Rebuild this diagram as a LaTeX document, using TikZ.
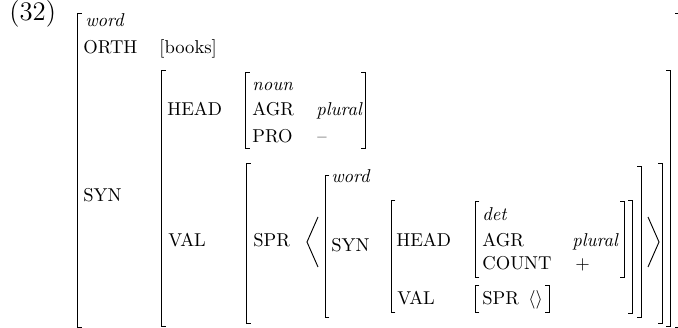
\documentclass[tikz,border=0pt]{standalone}
\usepackage{tikz}
\begin{document}
\begin{tikzpicture}[x=0.5376pt,y=-0.5376pt,
  feat/.style={anchor=base west,inner sep=0pt,font=\fontsize{10}{12}\selectfont},
  typ/.style={anchor=base west,inner sep=0pt,font=\fontsize{10}{12}\selectfont\itshape},
  txt/.style={anchor=base west,inner sep=0pt,font=\fontsize{10}{12}\selectfont},
  brk/.style={line width=0.5pt,line cap=rect}]
\useasboundingbox (0,0) rectangle (678,328);
\clip (0,0) rectangle (678,328);
% opening / closing bracket: x, top, bottom
\newcommand{\opbr}[3]{\draw[brk] (#1+4,#2) -- (#1,#2) -- (#1,#3) -- (#1+4,#3);}
\newcommand{\clbr}[3]{\draw[brk] (#1-4,#2) -- (#1,#2) -- (#1,#3) -- (#1-4,#3);}

% example number
\node[anchor=base west,inner sep=0pt,font=\fontsize{14.4}{17}\selectfont] (num) at (9,21) {(32)};

% outer word
\opbr{77.5}{13}{327}
\clbr{679.5}{13}{327}
\node[typ] (t1) at (85,27) {word};
\node[feat] (orth) at (83,54) {ORTH};
\node[txt] (books) at (159,54) {[books]};
\node[feat] (syn1) at (83,202) {SYN};

% SYN value
\opbr{161.5}{70}{326}
\clbr{670.5}{70}{326}
\node[feat] (head1) at (167,116) {HEAD};
\node[feat] (val1) at (168,247) {VAL};

% HEAD value: noun
\opbr{245.5}{72}{148}
\clbr{365}{72}{148}
\node[typ] (t2) at (252,91) {noun};
\node[feat] (agr1) at (252,116) {AGR};
\node[typ] (pl1) at (316,116) {plural};
\node[feat] (pro) at (252,143) {PRO};
\node[txt] (minus) at (317,143) {\textendash};

% VAL value
\opbr{246.5}{163}{323}
\clbr{662}{163}{323}
\node[feat] (spr1) at (253,247) {SPR};
\draw[brk,line cap=butt] (318,217) -- (307,242) -- (318,267);
\draw[brk,line cap=butt] (648,217) -- (659,242) -- (648,267);

% list element: word
\opbr{325}{175}{317}
\clbr{641}{166}{317}
\node[typ] (t3) at (331,183) {word};
\node[feat] (syn2) at (331,252) {SYN};

% its SYN value
\opbr{391}{200}{312}
\clbr{632.5}{200}{313}
\node[feat] (head2) at (396,247) {HEAD};
\node[feat] (val2) at (397,305) {VAL};

% det
\opbr{475}{201}{277}
\clbr{624}{201}{277}
\node[typ] (t4) at (482,221) {det};
\node[feat] (agr2) at (482,247) {AGR};
\node[typ] (pl2) at (572,247) {plural};
\node[feat] (count) at (482,270) {COUNT};
\node[txt] (plus) at (575,270) {+};

% inner VAL value
\opbr{475}{285}{312}
\clbr{549}{285}{312}
\node[feat] (spr2) at (482,305) {SPR};
\node[txt] (empty) at (528,305) {$\langle\rangle$};
\end{tikzpicture}
\end{document}
